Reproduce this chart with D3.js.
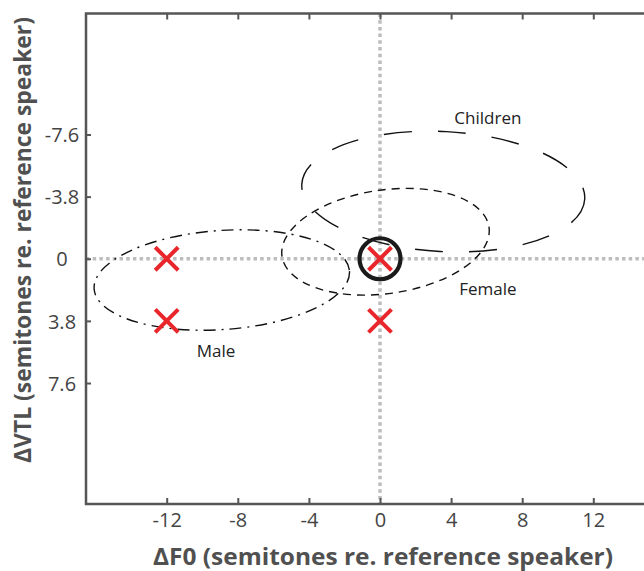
<!DOCTYPE html>
<html>
<head>
<meta charset="utf-8">
<script src="https://cdn.jsdelivr.net/npm/d3@7"></script>
<style>
  html, body { margin: 0; padding: 0; background: #fff; }
  svg { display: block; }
</style>
</head>
<body>
<script>
// ---------- data ----------
const xTicks = [-12, -8, -4, 0, 4, 8, 12];
const xTickLabels = ["-12", "-8", "-4", "0", "4", "8", "12"];
const yTicks = [-7.6, -3.8, 0, 3.8, 7.6];
const yTickLabels = ["-7.6", "-3.8", "0", "3.8", "7.6"];

const markerX = [-12, -12, 0, 0];
const markerY = [0, 3.8, 0, 3.8];

const refX = [0];
const refY = [0];

const groups   = ["Children", "Female", "Male"];
const ellCx    = [3.56, 0.31, -8.9];
const ellCy    = [-4.11, -1.04, 1.30];
const ellRx    = [7.97, 5.88, 7.2];
const ellRy    = [3.67, 3.17, 3.03];
const ellAngle = [3, -8, -4];
const labelX   = [6.07, 6.07, -9.22];
const labelY   = [-8.24, 2.22, 6.01];

const xTitle = "ΔF0 (semitones re. reference speaker)";
const yTitle = "ΔVTL (semitones re. reference speaker)";

// ---------- layout ----------
const W = 644, H = 571;
const x = d3.scaleLinear().domain([-16.54, 16.54]).range([86, 674]);
const y = d3.scaleLinear().domain([-15, 15]).range([13.5, 504]);

const svg = d3.select("body").append("svg").attr("width", W).attr("height", H);
const font = "'Open Sans', 'Noto Sans', sans-serif";
const axisColor = "#555";

// clip to the plot area
svg.append("clipPath").attr("id", "plotclip")
  .append("rect").attr("x", 86).attr("y", 13.5).attr("width", 588).attr("height", 490.5);

const plot = svg.append("g").attr("clip-path", "url(#plotclip)");

// dotted zero lines
plot.append("line")
  .attr("x1", x(-16.54)).attr("x2", x(16.54)).attr("y1", y(0)).attr("y2", y(0))
  .attr("stroke", "#bdbdbd").attr("stroke-width", 3.5).attr("stroke-dasharray", "3.5,3.2");
plot.append("line")
  .attr("x1", x(0)).attr("x2", x(0)).attr("y1", y(-15)).attr("y2", y(15))
  .attr("stroke", "#bdbdbd").attr("stroke-width", 3.5).attr("stroke-dasharray", "3.5,3.2");

// ellipses
const dashes = ["28,26", "8,6", "12,6,2,6"];
groups.forEach((g, i) => {
  const cx = x(ellCx[i]), cy = y(ellCy[i]);
  plot.append("ellipse")
    .attr("cx", cx).attr("cy", cy)
    .attr("rx", x(ellRx[i]) - x(0)).attr("ry", y(ellRy[i]) - y(0))
    .attr("transform", `rotate(${ellAngle[i]},${cx},${cy})`)
    .attr("fill", "none").attr("stroke", "#111").attr("stroke-width", 1.4)
    .attr("stroke-dasharray", dashes[i]);
  svg.append("text")
    .attr("x", x(labelX[i])).attr("y", y(labelY[i]))
    .attr("text-anchor", "middle")
    .attr("font-family", font).attr("font-size", 17).attr("fill", "#222")
    .text(g);
});

// reference circle
refX.forEach((d, i) => {
  plot.append("circle")
    .attr("cx", x(d)).attr("cy", y(refY[i])).attr("r", 20.5)
    .attr("fill", "none").attr("stroke", "#1a1a1a").attr("stroke-width", 4.2);
});

// red crosses
const s = 11.5;
markerX.forEach((d, i) => {
  const px = x(d), py = y(markerY[i]);
  plot.append("path")
    .attr("d", `M${px - s},${py - s}L${px + s},${py + s}M${px - s},${py + s}L${px + s},${py - s}`)
    .attr("stroke", "#e8262b").attr("stroke-width", 4).attr("fill", "none");
});

// ---------- axes ----------
const gB = svg.append("g").attr("transform", `translate(0,${y(15)})`)
  .call(d3.axisBottom(x).tickValues(xTicks).tickFormat((d, i) => xTickLabels[i])
    .tickSize(-6).tickSizeOuter(0).tickPadding(9));
const gT = svg.append("g").attr("transform", `translate(0,${y(-15)})`)
  .call(d3.axisTop(x).tickValues(xTicks).tickFormat("").tickSize(-6).tickSizeOuter(0));
const gL = svg.append("g").attr("transform", `translate(${x(-16.54)},0)`)
  .call(d3.axisLeft(y).tickValues(yTicks).tickFormat((d, i) => yTickLabels[i])
    .tickSize(-5).tickSizeOuter(0));

[gB, gT, gL].forEach(g => {
  g.select(".domain").remove();
  g.selectAll(".tick line").attr("stroke", axisColor).attr("stroke-width", 2);
  g.selectAll(".tick text").attr("font-family", font).attr("font-size", 20).attr("fill", "#444");
});
gL.selectAll(".tick text").attr("text-anchor", "middle").attr("x", -24).attr("dy", "0.36em");

// frame
svg.append("rect")
  .attr("x", x(-16.54)).attr("y", y(-15))
  .attr("width", x(16.54) - x(-16.54)).attr("height", y(15) - y(-15))
  .attr("fill", "none").attr("stroke", axisColor).attr("stroke-width", 2.5);

// titles
svg.append("text")
  .attr("x", 383).attr("y", 565)
  .attr("text-anchor", "middle")
  .attr("font-family", font).attr("font-weight", "bold").attr("font-size", 24)
  .attr("fill", "#505050")
  .attr("textLength", 460).attr("lengthAdjust", "spacingAndGlyphs")
  .text(xTitle);
svg.append("text")
  .attr("transform", "translate(31,240) rotate(-90)")
  .attr("text-anchor", "middle")
  .attr("font-family", font).attr("font-weight", "bold").attr("font-size", 24)
  .attr("fill", "#505050")
  .attr("textLength", 446).attr("lengthAdjust", "spacingAndGlyphs")
  .text(yTitle);
</script>
</body>
</html>
